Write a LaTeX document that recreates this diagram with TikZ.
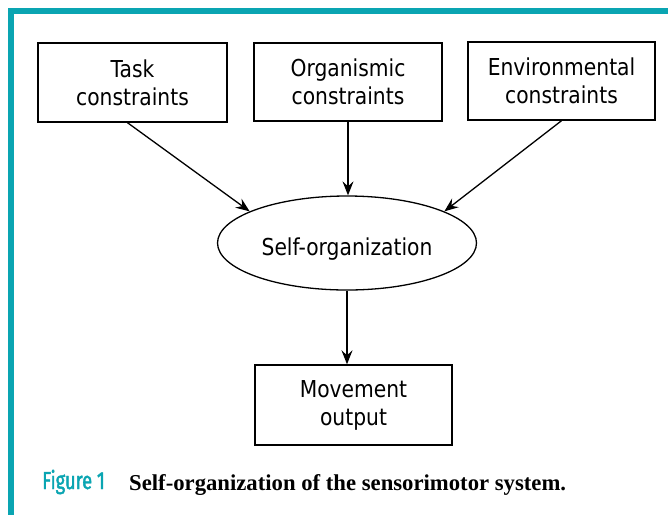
\documentclass[tikz,border=0pt]{standalone}
\usepackage{fontspec}
\setmainfont[FakeStretch=0.87]{DejaVu Sans}
\newfontfamily\figfont[FakeStretch=0.74,FakeBold=1.6]{Fira Sans}
\newfontfamily\capfont{Liberation Serif}
\usetikzlibrary{shapes.geometric,arrows.meta}
\definecolor{tealbar}{HTML}{0AA5B2}
\begin{document}
\begin{tikzpicture}[x=1pt,y=-1pt,
  boxnode/.style={draw, line width=1.4pt, inner sep=0pt, align=center,
    font=\fontsize{23.3}{28}\selectfont},
  ellnode/.style={draw, ellipse, line width=1.3pt, inner sep=0pt,
    font=\fontsize{23.3}{28}\selectfont},
  arr/.style={-{Stealth[length=14pt,width=11pt,inset=5pt]}, line width=1.3pt},
  bar/.style={fill=tealbar, draw=none}
]
\useasboundingbox (0,0) rectangle (668,515);
\fill[white] (0,0) rectangle (668,515);
\fill[bar] (8,8) rectangle (668,14);
\fill[bar] (8,8) rectangle (14,515);

\node[boxnode, minimum width=189pt, minimum height=79pt] (t) at (132.5,82.5) {Task\\constraints};
\node[boxnode, minimum width=188pt, minimum height=78pt] (o) at (348,82) {Organismic\\constraints};
\node[boxnode, minimum width=187pt, minimum height=78pt] (v) at (561.5,81) {Environmental\\constraints};
\node[ellnode, minimum width=259pt, minimum height=94pt, text height=29.5pt, text depth=5.5pt] (e) at (347,243) {Self-organization};
\node[boxnode, minimum width=197pt, minimum height=80pt] (m) at (353.5,405) {Movement\\output};

\draw[arr] ([xshift=-5pt]t.south) -- (e.162);
\draw[arr] (o.south) -- (o.south |- e.north);
\draw[arr] (v.south) -- (e.18);
\draw[arr] (e.south) -- (e.south |- m.north);

\node[anchor=base west, inner sep=0pt, text=tealbar, font=\figfont\fontsize{24.7}{28}\selectfont] (fig) at (42,489) {Figure 1};
\node[anchor=base west, inner sep=0pt, font=\capfont\bfseries\fontsize{22.7}{27}\selectfont] (cap) at (129,490) {Self-organization of the sensorimotor system.};
\end{tikzpicture}
\end{document}
